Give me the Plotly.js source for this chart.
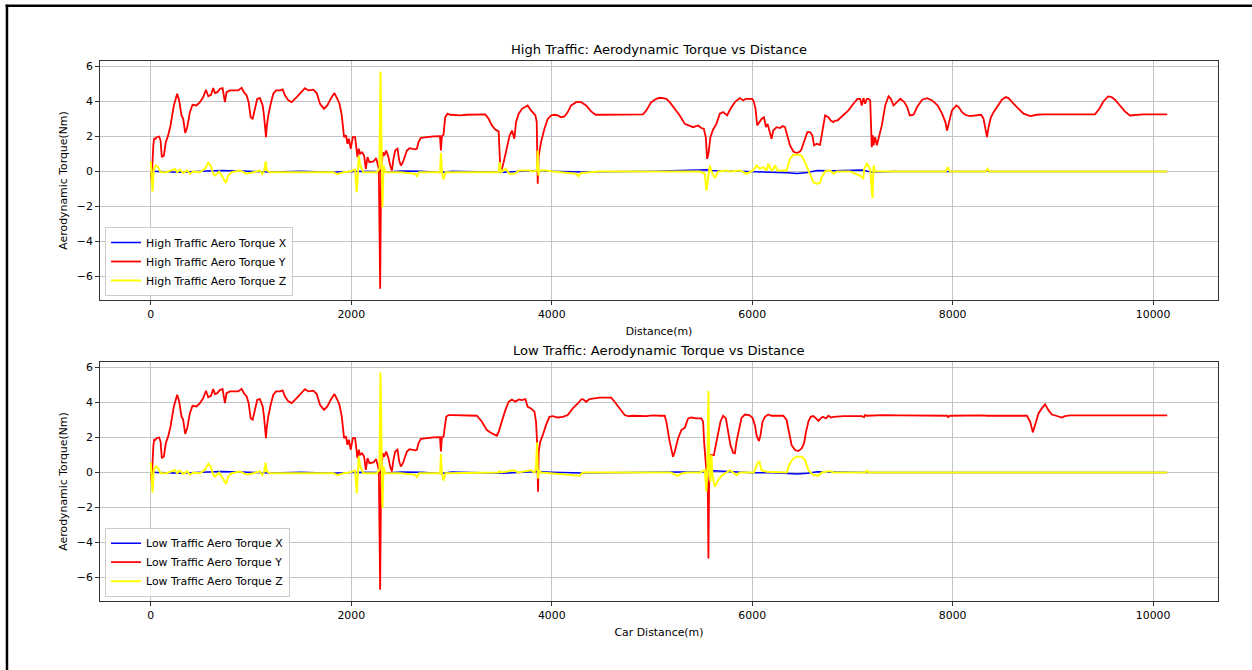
<!DOCTYPE html>
<html>
<head>
<meta charset="utf-8">
<title>Aerodynamic Torque vs Distance</title>
<script src="https://cdn.plot.ly/plotly-3.0.1.min.js"></script>
<style>
  html, body { margin: 0; padding: 0; background: #fff; overflow: hidden; }
  #chart { width: 1252px; height: 670px; }
</style>
</head>
<body>
<div id="chart"></div>
<script>
// ---------- High traffic run ----------
const highXDist = [0, 100, 300, 500, 700, 900, 1200, 1500, 1800, 2100, 2280, 2288, 2300, 2500, 2700, 2900, 3000, 3500, 3860, 4000, 4300, 5000, 5550, 5600, 5800, 6000, 6200, 6350, 6450, 6550, 6650, 6800, 7100, 7200, 7400, 8000, 8320, 8340, 8360, 10140];
const highXTorque = [0.02, 0.0, -0.04, 0.02, 0.05, 0.03, -0.03, 0.01, -0.04, 0.02, 0.0, 0.1, -0.05, 0.03, 0.01, -0.06, 0.02, -0.05, 0.05, 0.02, -0.03, 0.02, 0.1, 0.06, 0.03, -0.03, -0.02, -0.07, -0.12, -0.06, 0.06, 0.04, 0.08, -0.05, 0.0, 0.0, 0.0, 0.05, 0.0, 0.0];

const highYDist = [0, 8, 25, 33, 47, 57, 83, 97, 110, 130, 150, 173, 197, 230, 263, 283, 306, 323, 343, 363, 390, 416, 456, 490, 523, 550, 573, 600, 623, 640, 663, 690, 716, 739, 756, 789, 839, 872, 906, 929, 956, 976, 996, 1016, 1039, 1062, 1089, 1116, 1129, 1149, 1156, 1172, 1196, 1222, 1249, 1289, 1315, 1339, 1372, 1405, 1455, 1505, 1538, 1572, 1622, 1655, 1688, 1728, 1761, 1795, 1832, 1861, 1882, 1905, 1928, 1948, 1961, 1975, 1995, 2015, 2038, 2048, 2061, 2075, 2088, 2108, 2128, 2145, 2162, 2181, 2205, 2221, 2248, 2261, 2275, 2288, 2298, 2315, 2328, 2348, 2371, 2388, 2405, 2421, 2438, 2461, 2478, 2495, 2515, 2538, 2555, 2581, 2604, 2638, 2654, 2671, 2694, 2737, 2820, 2885, 2894, 2904, 2920, 2937, 2960, 2987, 3087, 3154, 3337, 3370, 3403, 3437, 3470, 3487, 3503, 3520, 3553, 3580, 3603, 3627, 3643, 3670, 3703, 3737, 3760, 3793, 3837, 3850, 3860, 3870, 3893, 3927, 3960, 3993, 4027, 4060, 4093, 4127, 4160, 4193, 4243, 4293, 4343, 4393, 4437, 4477, 4643, 4910, 4943, 4993, 5043, 5077, 5110, 5143, 5177, 5227, 5277, 5327, 5377, 5410, 5460, 5493, 5517, 5537, 5550, 5563, 5583, 5610, 5643, 5677, 5710, 5750, 5783, 5827, 5877, 5910, 5937, 5970, 6000, 6017, 6033, 6050, 6070, 6093, 6117, 6137, 6153, 6177, 6193, 6210, 6243, 6277, 6303, 6327, 6350, 6377, 6410, 6443, 6477, 6493, 6527, 6550, 6577, 6600, 6617, 6643, 6677, 6693, 6727, 6760, 6783, 6810, 6827, 6850, 6877, 6910, 6960, 7010, 7050, 7077, 7093, 7110, 7127, 7143, 7160, 7177, 7193, 7203, 7210, 7227, 7243, 7260, 7293, 7327, 7360, 7383, 7410, 7443, 7477, 7517, 7546, 7572, 7610, 7645, 7695, 7745, 7795, 7851, 7894, 7927, 7944, 7964, 7993, 8036, 8060, 8093, 8126, 8169, 8216, 8259, 8285, 8308, 8325, 8342, 8358, 8381, 8408, 8441, 8491, 8531, 8557, 8607, 8657, 8707, 8773, 8839, 8905, 9420, 9463, 9503, 9552, 9585, 9619, 9668, 9718, 9768, 9834, 9900, 10140];
const highYTorque = [-0.05, -0.51, 1.5, 1.87, 1.87, 1.96, 2.0, 1.77, 0.82, 0.91, 1.68, 2.06, 2.63, 3.77, 4.44, 4.06, 3.2, 3.01, 2.2, 2.53, 3.39, 3.81, 3.77, 3.96, 4.25, 4.67, 4.3, 4.38, 4.76, 4.48, 4.53, 4.72, 4.76, 3.96, 4.53, 4.63, 4.63, 4.63, 4.78, 4.53, 4.34, 3.96, 3.1, 3.01, 3.58, 4.15, 4.19, 3.77, 3.2, 1.96, 2.53, 3.2, 3.87, 4.44, 4.63, 4.63, 4.69, 4.34, 4.06, 3.96, 4.25, 4.53, 4.76, 4.63, 4.67, 4.48, 3.87, 3.58, 3.77, 4.15, 4.48, 4.15, 3.87, 3.2, 1.96, 2.06, 1.58, 1.87, 1.3, 1.96, 1.96, 1.49, 0.82, 1.3, 1.01, 1.1, 0.91, 0.15, 0.82, 0.53, 0.53, 0.57, 0.76, 0.53, 0.15, -6.7, 0.06, 1.1, 0.91, 1.2, 0.82, 0.34, 0.06, 0.72, 1.2, 1.3, 0.63, 0.34, 0.53, 0.91, 1.2, 1.33, 1.29, 1.26, 1.29, 1.68, 1.92, 1.96, 2.0, 2.02, 1.2, 2.02, 2.1, 3.1, 3.3, 3.24, 3.2, 3.24, 3.26, 3.01, 2.63, 2.4, 2.29, 0.15, 0.15, 0.53, 1.49, 2.06, 2.34, 1.87, 2.82, 3.3, 3.58, 3.68, 3.77, 3.49, 3.2, 2.82, -0.7, 0.91, 1.68, 2.44, 3.0, 3.2, 3.24, 3.2, 3.1, 3.14, 3.39, 3.77, 3.96, 3.96, 3.77, 3.43, 3.24, 3.24, 3.26, 3.26, 3.49, 3.96, 4.15, 4.21, 4.19, 4.15, 3.96, 3.58, 3.2, 2.72, 2.63, 2.53, 2.63, 2.48, 2.44, 1.96, 0.72, 1.0, 1.96, 2.4, 2.72, 3.3, 3.39, 3.2, 3.58, 3.96, 4.19, 4.06, 4.15, 4.15, 4.15, 3.96, 3.58, 2.63, 2.82, 3.0, 3.1, 2.53, 2.72, 2.25, 1.87, 2.34, 2.53, 2.48, 2.59, 2.53, 2.06, 1.49, 1.14, 1.05, 1.14, 1.29, 1.87, 2.25, 2.25, 2.06, 1.49, 1.58, 1.52, 2.15, 3.2, 3.1, 2.91, 2.82, 2.91, 2.91, 3.05, 3.2, 3.49, 3.87, 4.15, 4.15, 3.77, 4.19, 3.87, 4.15, 4.15, 4.06, 1.39, 2.06, 1.49, 1.96, 1.49, 1.87, 2.63, 3.77, 4.3, 4.15, 3.77, 3.96, 4.15, 3.96, 3.68, 3.2, 3.24, 3.68, 4.1, 4.19, 4.06, 3.77, 3.3, 2.82, 2.34, 2.82, 3.49, 3.77, 3.68, 3.39, 3.24, 3.16, 3.2, 3.26, 3.24, 3.01, 2.53, 1.96, 2.53, 3.1, 3.39, 3.68, 4.1, 4.25, 4.19, 3.87, 3.58, 3.3, 3.16, 3.24, 3.26, 3.26, 3.58, 4.0, 4.29, 4.25, 4.1, 3.77, 3.43, 3.2, 3.24, 3.26, 3.26];

const highZDist = [0, 17, 30, 50, 73, 97, 157, 206, 240, 263, 290, 323, 363, 390, 423, 490, 540, 573, 596, 623, 639, 683, 706, 729, 749, 773, 806, 889, 956, 1022, 1089, 1112, 1132, 1146, 1156, 1189, 1822, 1861, 1921, 1988, 2038, 2055, 2065, 2075, 2088, 2121, 2254, 2281, 2291, 2301, 2311, 2321, 2338, 2488, 2637, 2654, 2677, 2887, 2894, 2904, 2920, 2940, 3470, 3480, 3493, 3543, 3577, 3627, 3677, 3777, 3810, 3853, 3860, 3867, 3877, 3943, 4010, 4243, 4267, 4293, 4477, 5477, 5527, 5543, 5560, 5577, 5593, 5627, 5660, 5743, 5777, 5877, 5943, 6010, 6043, 6077, 6110, 6143, 6160, 6183, 6203, 6227, 6250, 6343, 6377, 6410, 6460, 6493, 6527, 6560, 6593, 6610, 6643, 6677, 6693, 6727, 6777, 6810, 6843, 6977, 7077, 7108, 7117, 7143, 7177, 7200, 7210, 7227, 7930, 7950, 7970, 8330, 8348, 8365, 10140];
const highZTorque = [0.57, -1.14, 0.15, 0.34, 0.25, -0.04, -0.04, 0.06, 0.15, -0.04, 0.11, -0.08, 0.06, -0.13, 0.0, -0.04, 0.15, 0.5, 0.34, -0.13, -0.23, 0.0, -0.23, -0.46, -0.65, -0.23, -0.04, 0.06, -0.13, -0.04, 0.06, -0.15, 0.06, 0.57, 0.06, -0.04, -0.04, -0.15, -0.04, 0.0, 0.11, -1.18, 0.34, 0.91, 0.34, -0.04, -0.04, 0.15, 5.71, 0.15, -2.04, 0.34, -0.04, -0.04, -0.13, -0.27, -0.04, -0.04, 1.07, -0.04, -0.46, -0.04, -0.04, 0.53, -0.04, 0.15, -0.13, -0.13, 0.06, 0.06, 0.0, 0.06, 1.2, -0.23, 0.06, 0.06, 0.0, -0.13, -0.27, -0.08, 0.0, 0.0, -0.13, -1.09, -0.23, 0.34, 0.0, -0.38, 0.0, 0.06, 0.0, 0.06, -0.13, 0.06, 0.34, 0.15, 0.25, 0.06, 0.44, 0.15, 0.06, 0.34, 0.06, 0.06, 0.72, 0.95, 0.95, 0.91, 0.53, 0.06, -0.32, -0.61, -0.7, -0.65, -0.32, 0.0, 0.06, -0.13, 0.0, 0.0, -0.23, -0.42, 0.15, 0.44, 0.15, -1.52, 0.34, 0.0, 0.0, 0.25, 0.0, 0.0, 0.15, 0.0, 0.0];

// ---------- Low traffic run ----------
const lowXDist = [0, 100, 300, 500, 700, 900, 1200, 1500, 1800, 2100, 2280, 2288, 2300, 2500, 2700, 2900, 3000, 3500, 3860, 4000, 4300, 5000, 5560, 5610, 5800, 6000, 6200, 6350, 6450, 6550, 6650, 6800, 7100, 7200, 10140];
const lowXTorque = [0.02, 0.0, -0.04, 0.02, 0.05, 0.03, -0.03, 0.01, -0.04, 0.02, 0.0, 0.1, -0.05, 0.03, 0.01, -0.06, 0.02, -0.05, 0.05, 0.02, -0.03, 0.02, 0.04, 0.1, 0.03, -0.02, -0.02, -0.05, -0.08, -0.05, 0.04, 0.03, 0.02, 0.0, 0.0];

const lowYDist = [0, 8, 25, 33, 47, 57, 83, 97, 110, 130, 150, 173, 197, 230, 263, 283, 306, 323, 343, 363, 390, 416, 456, 490, 523, 550, 573, 600, 623, 640, 663, 690, 716, 739, 756, 789, 839, 872, 906, 929, 956, 976, 996, 1016, 1039, 1062, 1089, 1116, 1129, 1149, 1156, 1172, 1196, 1222, 1249, 1289, 1315, 1339, 1372, 1405, 1455, 1505, 1538, 1572, 1622, 1655, 1688, 1728, 1761, 1795, 1832, 1861, 1882, 1905, 1928, 1948, 1961, 1975, 1995, 2015, 2038, 2048, 2061, 2075, 2088, 2108, 2128, 2145, 2162, 2181, 2205, 2221, 2248, 2261, 2275, 2288, 2298, 2315, 2328, 2348, 2371, 2388, 2405, 2421, 2438, 2461, 2478, 2495, 2515, 2538, 2555, 2581, 2604, 2638, 2654, 2671, 2694, 2737, 2820, 2885, 2894, 2904, 2920, 2947, 2970, 3020, 3154, 3253, 3303, 3353, 3403, 3453, 3470, 3503, 3537, 3570, 3603, 3637, 3670, 3703, 3737, 3760, 3793, 3827, 3843, 3853, 3863, 3870, 3883, 3910, 3943, 3977, 4010, 4060, 4110, 4160, 4210, 4260, 4293, 4310, 4343, 4377, 4427, 4477, 4543, 4593, 4627, 4677, 4727, 4760, 4810, 4943, 5010, 5077, 5127, 5143, 5177, 5210, 5227, 5260, 5293, 5327, 5360, 5393, 5443, 5493, 5510, 5520, 5537, 5557, 5563, 5570, 5583, 5597, 5617, 5637, 5660, 5683, 5710, 5737, 5760, 5783, 5810, 5827, 5843, 5870, 5893, 5927, 5970, 6003, 6027, 6043, 6067, 6083, 6103, 6127, 6160, 6193, 6243, 6310, 6343, 6370, 6393, 6427, 6460, 6493, 6517, 6537, 6560, 6583, 6610, 6637, 6660, 6683, 6703, 6737, 6760, 6787, 6810, 6910, 7010, 7093, 7117, 7127, 7143, 7310, 7477, 7677, 7945, 7955, 7970, 8300, 8340, 8740, 8773, 8800, 8823, 8856, 8889, 8922, 8955, 8989, 9032, 9088, 9121, 9171, 10140];
const lowYTorque = [-0.05, -0.51, 1.5, 1.87, 1.87, 1.96, 2.0, 1.77, 0.82, 0.91, 1.68, 2.06, 2.63, 3.77, 4.44, 4.06, 3.2, 3.01, 2.2, 2.53, 3.39, 3.81, 3.77, 3.96, 4.25, 4.67, 4.3, 4.38, 4.76, 4.48, 4.53, 4.72, 4.76, 3.96, 4.53, 4.63, 4.63, 4.63, 4.78, 4.53, 4.34, 3.96, 3.1, 3.01, 3.58, 4.15, 4.19, 3.77, 3.2, 1.96, 2.53, 3.2, 3.87, 4.44, 4.63, 4.63, 4.69, 4.34, 4.06, 3.96, 4.25, 4.53, 4.76, 4.63, 4.67, 4.48, 3.87, 3.58, 3.77, 4.15, 4.48, 4.15, 3.87, 3.2, 1.96, 2.06, 1.58, 1.87, 1.3, 1.96, 1.96, 1.49, 0.82, 1.3, 1.01, 1.1, 0.91, 0.15, 0.82, 0.53, 0.53, 0.57, 0.76, 0.53, 0.15, -6.7, 0.06, 1.1, 0.91, 1.2, 0.82, 0.34, 0.06, 0.72, 1.2, 1.3, 0.63, 0.34, 0.53, 0.91, 1.2, 1.33, 1.29, 1.26, 1.29, 1.68, 1.92, 1.96, 2.0, 2.02, 1.2, 2.02, 2.04, 3.18, 3.28, 3.28, 3.28, 3.24, 2.9, 2.42, 2.23, 2.1, 2.32, 2.99, 3.56, 4.04, 4.17, 4.04, 4.17, 4.13, 4.19, 3.75, 3.66, 3.47, 2.9, 1.8, -1.1, 1.2, 1.71, 2.13, 2.72, 3.18, 3.22, 3.14, 3.18, 3.28, 3.66, 3.94, 4.17, 4.19, 4.04, 4.19, 4.23, 4.27, 4.27, 4.27, 4.04, 3.66, 3.28, 3.22, 3.24, 3.22, 3.26, 3.24, 3.24, 2.9, 1.75, 0.9, 1.18, 1.94, 2.42, 2.55, 3.09, 3.14, 3.09, 3.09, 2.9, 1.75, 0.42, -0.91, -4.91, -0.53, 0.99, 0.99, 0.99, 1.56, 2.32, 2.9, 3.24, 3.09, 2.32, 1.56, 1.12, 1.09, 1.75, 2.61, 3.12, 3.31, 3.28, 3.12, 2.7, 2.13, 1.79, 2.13, 2.9, 3.18, 3.31, 3.24, 3.24, 3.24, 3.0, 2.13, 1.56, 1.28, 1.22, 1.37, 1.66, 2.32, 2.9, 3.18, 3.22, 3.09, 2.95, 3.09, 3.18, 3.09, 3.24, 3.14, 3.18, 3.22, 3.24, 3.22, 3.16, 3.28, 3.24, 3.28, 3.26, 3.24, 3.24, 3.16, 3.24, 3.26, 3.24, 3.24, 2.9, 2.29, 2.72, 3.37, 3.66, 3.89, 3.56, 3.31, 3.24, 3.14, 3.22, 3.26, 3.26];

const lowZDist = [0, 17, 30, 50, 73, 97, 157, 206, 240, 263, 290, 323, 363, 390, 423, 490, 540, 573, 596, 623, 639, 683, 706, 729, 749, 773, 806, 889, 956, 1022, 1089, 1112, 1132, 1146, 1156, 1189, 1822, 1861, 1921, 1988, 2038, 2055, 2065, 2075, 2088, 2121, 2254, 2281, 2291, 2301, 2311, 2321, 2338, 2488, 2637, 2654, 2677, 2887, 2894, 2904, 2920, 2940, 3470, 3480, 3493, 3627, 3660, 3793, 3827, 3843, 3853, 3863, 3873, 3893, 4250, 4277, 4310, 5180, 5210, 5253, 5293, 5350, 5477, 5527, 5543, 5553, 5563, 5573, 5583, 5593, 5603, 5627, 5660, 5693, 5743, 5777, 5810, 5843, 5877, 6017, 6050, 6070, 6093, 6143, 6343, 6377, 6410, 6443, 6493, 6527, 6560, 6610, 6660, 6693, 6777, 6810, 7130, 7143, 7160, 10140];
const lowZTorque = [0.57, -1.14, 0.15, 0.34, 0.25, -0.04, -0.04, 0.06, 0.15, -0.04, 0.11, -0.08, 0.06, -0.13, 0.0, -0.04, 0.15, 0.5, 0.34, -0.13, -0.23, 0.0, -0.23, -0.46, -0.65, -0.23, -0.04, 0.06, -0.13, -0.04, 0.06, -0.15, 0.06, 0.57, 0.06, -0.04, -0.04, -0.15, -0.04, 0.0, 0.11, -1.18, 0.34, 0.91, 0.34, -0.04, -0.04, 0.15, 5.71, 0.15, -2.04, 0.34, -0.04, -0.04, -0.13, -0.27, -0.04, -0.04, 1.07, -0.04, -0.46, -0.04, 0.0, 0.08, 0.0, 0.13, 0.0, 0.13, 0.0, 0.23, 1.71, -0.34, 0.13, 0.0, -0.15, -0.19, 0.0, 0.0, -0.06, -0.19, -0.06, 0.0, 0.0, 0.13, -1.1, 0.42, 4.65, 0.0, -0.53, 0.99, -0.15, -0.82, -0.44, -0.19, 0.0, 0.13, 0.0, -0.15, 0.0, 0.0, 0.51, 0.65, 0.13, 0.04, 0.0, 0.51, 0.8, 0.9, 0.9, 0.72, 0.13, -0.15, -0.19, 0.0, 0.08, 0.0, 0.0, 0.11, 0.0, 0.0];

const textFont = { family: 'DejaVu Sans, sans-serif', size: 10.9, color: '#000' };
const titleFont = { family: 'DejaVu Sans, sans-serif', size: 13.1, color: '#000' };
// X is drawn a little thinner so the Z trace on top fully covers it where both sit at zero
const lineWidths = { blue: 1.5, red: 1.8, yellow: 2.0 };

function series(x, y, name, color, xa, ya, legend) {
  return { x: x, y: y, name: name, type: 'scatter', mode: 'lines',
           line: { color: color, width: lineWidths[color] }, xaxis: xa, yaxis: ya, legend: legend };
}

const traces = [
  series(highXDist, highXTorque, 'High Traffic Aero Torque X', 'blue', 'x', 'y', 'legend'),
  series(highYDist, highYTorque, 'High Traffic Aero Torque Y', 'red', 'x', 'y', 'legend'),
  series(highZDist, highZTorque, 'High Traffic Aero Torque Z', 'yellow', 'x', 'y', 'legend'),
  series(lowXDist, lowXTorque, 'Low Traffic Aero Torque X', 'blue', 'x2', 'y2', 'legend2'),
  series(lowYDist, lowYTorque, 'Low Traffic Aero Torque Y', 'red', 'x2', 'y2', 'legend2'),
  series(lowZDist, lowZTorque, 'Low Traffic Aero Torque Z', 'yellow', 'x2', 'y2', 'legend2')
];

function xAxis(title, anchor) {
  return {
    anchor: anchor, domain: [0, 1], range: [-507, 10647],
    tickmode: 'linear', tick0: 0, dtick: 2000, tickformat: 'd',
    showgrid: true, gridcolor: '#c4c4c4', gridwidth: 1, zeroline: false,
    showline: true, linecolor: '#333', linewidth: 1, mirror: true,
    ticks: 'outside', ticklen: 4, tickwidth: 1, tickcolor: '#333',
    tickfont: textFont,
    title: { text: title, font: textFont, standoff: 7 }
  };
}
function yAxis(domain, anchor) {
  return {
    anchor: anchor, domain: domain, range: [-7.34, 6.31],
    tickmode: 'linear', tick0: 0, dtick: 2,
    showgrid: true, gridcolor: '#c4c4c4', gridwidth: 1, zeroline: false,
    showline: true, linecolor: '#333', linewidth: 1, mirror: true,
    ticks: 'outside', ticklen: 4, tickwidth: 1, tickcolor: '#333',
    tickfont: textFont,
    title: { text: 'Aerodynamic Torque(Nm)', font: textFont, standoff: 6 }
  };
}

const legendStyle = (y) => ({
  x: 0.0045, y: y, xanchor: 'left', yanchor: 'bottom',
  bgcolor: 'rgba(255,255,255,0.8)', bordercolor: '#cccccc', borderwidth: 1,
  font: textFont
});

const layout = {
  width: 1252, height: 670,
  margin: { l: 100, r: 34, t: 61, b: 69 },
  paper_bgcolor: '#fff', plot_bgcolor: '#fff',
  font: { family: 'DejaVu Sans, sans-serif', color: '#000' },
  showlegend: true,
  xaxis: xAxis('Distance(m)', 'y'),
  yaxis: yAxis([0.5574, 1], 'x'),
  xaxis2: xAxis('Car Distance(m)', 'y2'),
  yaxis2: yAxis([0, 0.4426], 'x2'),
  legend: legendStyle(0.5648),
  legend2: legendStyle(0.0080),
  annotations: [
    { text: 'High Traffic: Aerodynamic Torque vs Distance', xref: 'paper', yref: 'paper',
      x: 0.5, y: 1.0222, xanchor: 'center', yanchor: 'middle', showarrow: false, font: titleFont },
    { text: 'Low Traffic: Aerodynamic Torque vs Distance', xref: 'paper', yref: 'paper',
      x: 0.5, y: 0.4648, xanchor: 'center', yanchor: 'middle', showarrow: false, font: titleFont }
  ],
  shapes: [
    // figure frame: left and top edges
    { type: 'line', xref: 'paper', yref: 'paper', x0: -0.0832, x1: -0.0832, y0: 1.104, y1: -0.13,
      line: { color: '#000', width: 2.5 } },
    { type: 'line', xref: 'paper', yref: 'paper', x0: -0.0845, x1: 1.04, y0: 1.1024, y1: 1.1024,
      line: { color: '#000', width: 2.5 } }
  ]
};

Plotly.newPlot('chart', traces, layout, { displayModeBar: false, staticPlot: true });
</script>
</body>
</html>
